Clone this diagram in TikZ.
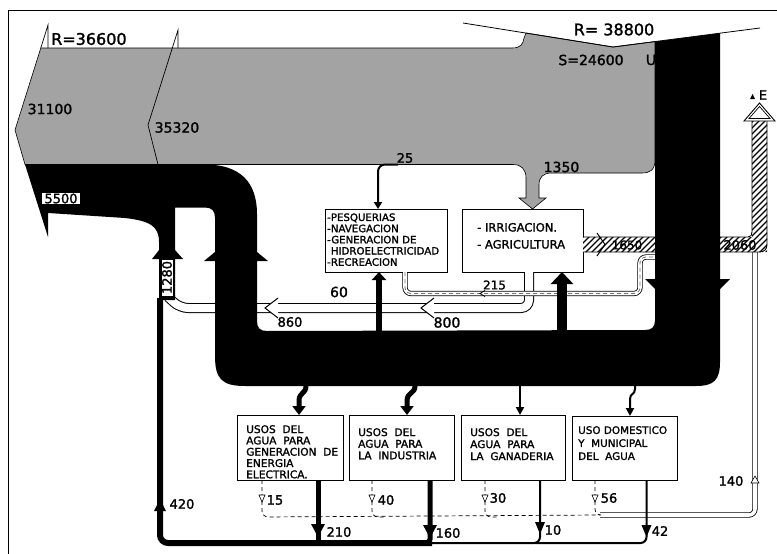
\documentclass[tikz,border=0pt]{standalone}
\usepackage{fontspec}
\setmainfont{DejaVu Sans}[FakeBold=1.6]
\usetikzlibrary{arrows.meta}
\definecolor{stip}{gray}{0.64}
\begin{document}
\begin{tikzpicture}[x=1pt,y=-1pt,
  fs/.style={font=\fontsize{#1}{#1}\selectfont},
  lab/.style={inner sep=0pt, fs=#1},
  ubox/.style={draw, line width=0.9pt, fill=white, inner sep=0pt, outer sep=0pt},
  btxt/.style={inner sep=0pt, anchor=north west, align=left},
  whitepipe/.style={draw=black, line width=1pt, double=white, double distance=8pt, rounded corners=8pt},
  thinpipe/.style={draw=black, line width=0.8pt, double=white, double distance=3.6pt, rounded corners=6pt},
  dashline/.style={line width=0.7pt, dash pattern=on 4pt off 3pt, rounded corners=6pt},
  hatchline/.style={line width=1.2pt},
  opentri/.style={draw, fill=white, line width=0.6pt},
]
\useasboundingbox (0,0) rectangle (777,554);
% frame
\draw[line width=1pt] (777,10) -- (8,10) -- (8,554);

% grey (stippled) band
\path[fill=stip, draw=black, line width=0.6pt]
 (48,48) -- (512,48) .. controls (521,48) and (523,44) .. (524,38) -- (526,33) -- (613,47) -- (655,41.6)
 -- (655,160) .. controls (655,170) and (650,173) .. (642,173) -- (552,173)
 .. controls (543,173) and (539,177) .. (539,185) -- (539,198) -- (546,198) -- (532.5,209) -- (519,198) -- (526,198)
 -- (526,178) .. controls (526,169) and (521,164.5) .. (513,164.5) -- (25,164.5) -- (15,130) -- (40.8,48) -- cycle;
\draw[line width=0.7pt] (40.8,48) -- (48,25) -- (48,48);
\draw[line width=0.7pt] (178,48) -- (178,30) -- (148,125) -- (158,164.5);
% precipitation V line
\draw[line width=0.8pt] (463,23) -- (613,47) -- (760,28);

% upper boxes
\node[ubox, minimum width=121pt, minimum height=63pt] (I) at (522.5,240.5) {};
\node[ubox, minimum width=122pt, minimum height=63pt] (P) at (386,240.5) {};

% white pipe 800 / 860
\coordinate (j1280) at (168,297);
\draw[whitepipe] ([xshift=6.5pt]I.south) -- (529,308) -- (180,308) -- (j1280);
\fill[white] (421,308) -- (434,298) -- (434,318) -- cycle;
\draw[line width=1pt] (434,298) -- (421,308) -- (434,318);
\fill[white] (265,308) -- (278,298) -- (278,318) -- cycle;
\draw[line width=1pt] (278,298) -- (265,308) -- (278,318);

% 215 pipe (dashed core)
\coordinate (e215) at (664,257);
\draw[thinpipe] ([xshift=19pt]P.south) -- (405,293.5) -- (640,293.5) -- (640,257) -- (e215);
\draw[line width=0.8pt, black!55, dash pattern=on 4pt off 3pt, rounded corners=6pt] ([xshift=19pt]P.south) -- (405,293.5) -- (640,293.5) -- (640,257) -- (e215);
\draw[line width=0.8pt] (485,290.5) -- (480,293.5) -- (485,296.5);

% 140 pipe
\coordinate (d140) at (600,515);
\coordinate (u140) at (755,250);
\draw[thinpipe] (d140) -- (755,515) -- (u140);
\draw[opentri] (751,483) -- (755,476) -- (759,483) -- cycle;

% hatched band 1650 / 2060 / E
\begin{scope}
  \clip (I.east |- 0,237) -- (752,237) -- (752,121) -- (767,121) -- (767,252) -- (I.east |- 0,252) -- cycle;
  \fill[white] (580,100) rectangle (770,255);
  \foreach \k in {440,446,...,776} \draw[hatchline] (\k,260) -- ++(170,-170);
\end{scope}
\draw[line width=0.9pt] (I.east |- 0,237) -- (748,237) .. controls (751,237) and (752,235) .. (752,232) -- (752,121)
  (767,121) -- (767,244) .. controls (767,250) and (764,252) .. (759,252) -- (I.east |- 0,252);
\draw[line width=1pt] (597,233) -- (605,244.5) -- (597,256);
\draw[line width=0.9pt, fill=white] (744,121) -- (759.5,103) -- (775,121) -- cycle;
\draw[line width=0.7pt] (749,118.5) -- (759.5,106.5) -- (770,118.5) -- cycle;

% black band
\fill[black] (25,164.5) -- (205,164.5) .. controls (240,164.5) and (257,182) .. (257,214) -- (257,321)
 .. controls (257,328) and (260,331) .. (267,331) -- (645,330) .. controls (652,330) and (655,327) .. (655,320)
 -- (655,41.6) -- (720,33.2) -- (720,362) .. controls (720,380) and (714,386) .. (696,386)
 -- (245,386) .. controls (222,386) and (215,379) .. (215,356) -- (215,218) .. controls (215,211) and (212,207.5) .. (205,207.5)
 -- (175,207.5) -- (175,300) -- (159,300) -- (159,242) .. controls (159,226) and (150,221) .. (125,218)
 -- (48,213) -- (48,237) -- cycle;
% arrow wings on the black band
\fill (215,252) -- (204,261) -- (215,261) -- cycle;
\fill (257,252) -- (268,261) -- (257,261) -- cycle;
\fill (159,250) -- (152,259) -- (159,259) -- cycle;
\fill (175,250) -- (183,259) -- (175,259) -- cycle;
\fill (655,279) -- (645,279) -- (655,289) -- cycle;
\fill (720,279) -- (730,279) -- (720,289) -- cycle;

% pipes to upper boxes
\draw[line width=2pt, rounded corners=7pt, -{Triangle[width=8pt,length=7pt]}] (398,164.5) -- (378,164.5) -- ([xshift=-8pt]P.north);
\draw[line width=6pt, -{Triangle[width=14pt,length=8pt]}] (379,335) -- ([xshift=-7pt]P.south);
\draw[line width=10pt, -{Triangle[width=22pt,length=12pt]}] (562,335) -- ([xshift=39.5pt]I.south);

% lower boxes
\node[ubox, minimum width=106pt, minimum height=65pt] (G) at (290,447.5) {};
\node[ubox, minimum width=105pt, minimum height=65pt] (N) at (401.5,447.5) {};
\node[ubox, minimum width=104pt, minimum height=65pt] (A) at (513,447.5) {};
\node[ubox, minimum width=105pt, minimum height=64pt] (D) at (624.5,448) {};

% pipes into lower boxes
\draw[line width=5pt, -{Triangle[width=13pt,length=9pt]}] (306,380) -- (306,386) .. controls (306,394) and (299,392) .. (299,401) -- ([xshift=9pt]G.north);
\draw[line width=5pt, -{Triangle[width=13pt,length=9pt]}] (415,380) -- (415,386) .. controls (415,394) and (407,392) .. (407,401) -- ([xshift=5.5pt]N.north);
\draw[line width=2pt, -{Triangle[width=8pt,length=8pt]}] (520,380) -- ([xshift=7pt]A.north);
\draw[line width=2pt, -{Triangle[width=8pt,length=8pt]}] (635,380) -- (635,389) .. controls (635,395) and (630,393) .. (630,399) -- ([xshift=5.5pt]D.north);

% return pipes
\coordinate (b1280) at (160,298);
\draw[line width=6pt, rounded corners=8pt] (b1280) -- (160,543) -- (432,543);
\draw[line width=5pt] ([xshift=28pt]G.south) -- (318,543);
\draw[line width=5pt, rounded corners=4pt] ([xshift=28.5pt]N.south) -- (430,543) -- (420,543);
\draw[line width=2pt, rounded corners=6pt] ([xshift=27pt]A.south) -- (540,543) -- (428,543);
\draw[line width=2pt, rounded corners=6pt] ([xshift=22pt]D.south) -- (646.5,543) -- (535,543);
\fill (154,511) -- (166,511) -- (160,499) -- cycle;
\fill (311,524) -- (325,524) -- (318,537) -- cycle;
\fill (423,525) -- (437,525) -- (430,538) -- cycle;
\fill (535,522) -- (545,522) -- (540,534) -- cycle;
\fill (641.5,525) -- (651.5,525) -- (646.5,537) -- cycle;

% dashed losses
\draw[dashline] ([xshift=-28pt]G.south) -- (262,517) -- (d140);
\draw[dashline] ([xshift=-29.5pt]N.south) -- (372,517) -- (386,517);
\draw[dashline] ([xshift=-28pt]A.south) -- (485,517) -- (499,517);
\draw[dashline] ([xshift=-29.5pt]D.south) -- (595,515) -- (d140);
\draw[opentri] (259,495) -- (265,495) -- (262,502) -- cycle;
\draw[opentri] (369,495) -- (375,495) -- (372,502) -- cycle;
\draw[opentri] (482,495) -- (488,495) -- (485,502) -- cycle;
\draw[opentri] (592,495) -- (598,495) -- (595,502) -- cycle;

% box texts
\node[btxt, font=\fontsize{10.2}{11.2}\selectfont] (Pt) at (327,213.2) {-PESQUERIAS\\-NAVEGACION\\-GENERACION DE\\\hphantom{-}HIDROELECTRICIDAD\\-RECREACION};
\node[btxt, font=\fontsize{11.5}{17}\selectfont] (It) at (477,222.8) {- IRRIGACION.\\- AGRICULTURA};
\node[btxt, font=\fontsize{10.6}{11.3}\selectfont] (Gt) at (246,425) {USOS\ \ DEL\\AGUA\ \ PARA\\GENERACION\ \ DE\\ENERGIA\\ELECTRICA.};
\node[btxt, font=\fontsize{10.6}{11.6}\selectfont] (Nt) at (358,428) {USOS\ \ DEL\\AGUA\ \ PARA\\LA\ \ INDUSTRIA};
\node[btxt, font=\fontsize{10.6}{12}\selectfont] (At) at (470,428) {USOS\ \ DEL\\AGUA\ \ PARA\\LA\ \ GANADERIA};
\node[btxt, font=\fontsize{10.4}{13}\selectfont] (Dt) at (578,426) {USO DOMESTICO\\Y\ \ MUNICIPAL\\DEL\ \ AGUA};

% labels
\node[lab=16, anchor=west] (tR1) at (51,39) {R=36600};
\node[lab=16] (tR2) at (614,29.5) {R= 38800};
\node[lab=14] (tS) at (591,60) {S=24600};
\node[lab=14] (tU) at (651,60) {U};
\node[lab=14] (t31) at (50,109) {31100};
\node[lab=14] (t35) at (177,127.5) {35320};
\node[lab=13] (t25) at (405,158) {25};
\node[lab=14] (t1350) at (561.5,167) {1350};
\node[draw, fill=white, line width=0.6pt, inner xsep=3pt, inner ysep=1pt, fs=13] (t5500) at (61,198.5) {5500};
\node[draw, fill=white, line width=0.6pt, inner xsep=2pt, inner ysep=1pt, fs=13, rotate=90] (t1280) at (167,277.5) {1280};
\node[lab=14] (t60) at (339,292) {60};
\node[lab=13] (t860) at (290,322) {860};
\node[lab=14] (t800) at (447,322.5) {800};
\node[lab=12] (t215) at (494.5,285) {215};
\node[lab=12] (t1650) at (627,245) {1650};
\node[lab=13] (t2060) at (740,245) {2060};
\node[lab=13] (t420) at (182,504) {420};
\node[lab=13] (t15) at (275,500) {15};
\node[lab=13] (t40) at (386,500) {40};
\node[lab=13] (t30) at (498,498) {30};
\node[lab=13] (t56) at (609,498) {56};
\node[lab=13] (t210) at (339,532) {210};
\node[lab=13] (t160) at (448,533) {160};
\node[lab=13] (t10) at (553,530) {10};
\node[lab=13] (t42) at (660,531) {42};
\node[lab=13] (t140) at (731,481) {140};
\fill (750,99) -- (755,99) -- (752.5,94) -- cycle;
\node[lab=13] (tE) at (763,95) {E};
\end{tikzpicture}
\end{document}
